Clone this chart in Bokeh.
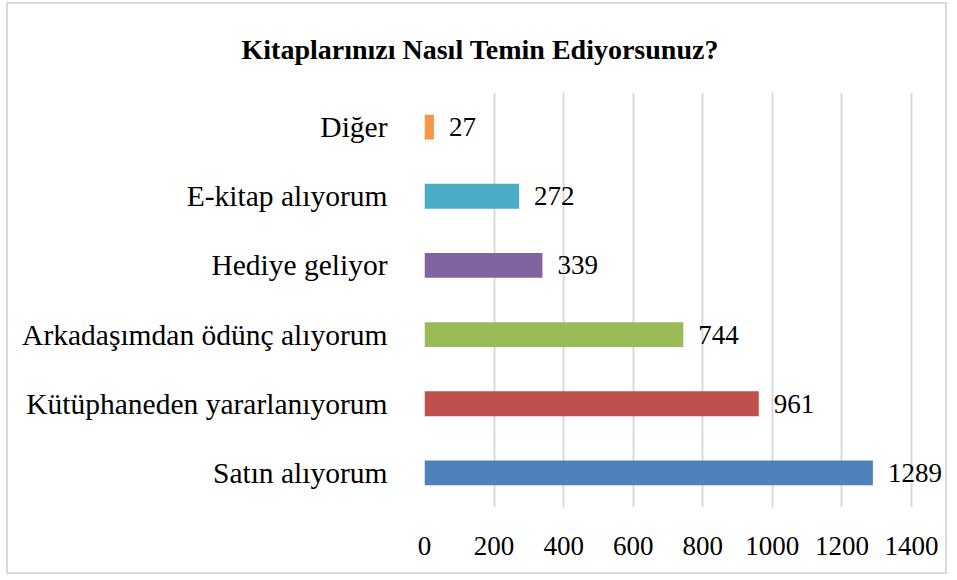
from bokeh.plotting import figure
from bokeh.models import ColumnDataSource, FactorRange, Range1d, FixedTicker
from bokeh.core.properties import value
from bokeh.embed import file_html
from bokeh.resources import INLINE

title_text = "Kitaplarınızı Nasıl Temin Ediyorsunuz?"
categories = ["Satın alıyorum", "Kütüphaneden yararlanıyorum", "Arkadaşımdan ödünç alıyorum",
              "Hediye geliyor", "E-kitap alıyorum", "Diğer"]
counts = [1289, 961, 744, 339, 272, 27]
colors = ["#4F81BD", "#C0504D", "#9BBB59", "#8064A2", "#4BACC6", "#F79646"]
x_ticks = [0, 200, 400, 600, 800, 1000, 1200, 1400]

FONT = "Liberation Serif"

src = ColumnDataSource(dict(cat=categories, count=counts, color=colors,
                            label=[str(c) for c in counts]))

# frame spans 0..1400 over 487px; extend range so value labels past 1400 are not clipped
x_end = 1400 + 38 * 1400 / 487

p = figure(width=941, height=572, output_backend="svg", toolbar_location=None,
           y_range=FactorRange(factors=categories, range_padding=0),
           x_range=Range1d(0, x_end),
           min_border_left=416, min_border_right=0, min_border_top=88, min_border_bottom=69)
p.styles = {"border": "2px solid #D9D9D9", "margin-left": "6px", "margin-top": "2px"}
p.outline_line_color = None
p.background_fill_color = "white"
p.border_fill_color = "white"

p.title.text = title_text
p.title.align = "left"
p.title.offset = -183
p.title.vertical_align = "middle"
p.title.standoff = 54
p.title.text_font = FONT
p.title.text_font_style = "bold"
p.title.text_font_size = "28px"
p.title.text_color = "black"

p.hbar(y="cat", right="count", left=0, height=0.36, color="color", source=src, line_color=None)
p.text(x="count", y="cat", text="label", x_offset=15, text_baseline="middle", text_align="left",
       text_font=value(FONT), text_font_size="27px", text_color="black", source=src)

p.xaxis.ticker = FixedTicker(ticks=x_ticks)
p.xaxis.axis_line_color = None
p.xaxis.major_tick_line_color = None
p.xaxis.minor_tick_line_color = None
p.xaxis.major_label_standoff = 23
p.xaxis.major_label_text_font = FONT
p.xaxis.major_label_text_font_size = "27px"
p.xaxis.major_label_text_color = "black"

p.yaxis.axis_line_color = None
p.yaxis.major_tick_line_color = None
p.yaxis.minor_tick_line_color = None
p.yaxis.major_label_standoff = 31
p.yaxis.major_label_text_font = FONT
p.yaxis.major_label_text_font_size = "29.5px"
p.yaxis.major_label_text_color = "black"

p.ygrid.grid_line_color = None
p.xgrid.grid_line_color = "#D9D9D9"
p.xgrid.grid_line_width = 2

open("out.html", "w").write(file_html(p, INLINE))
